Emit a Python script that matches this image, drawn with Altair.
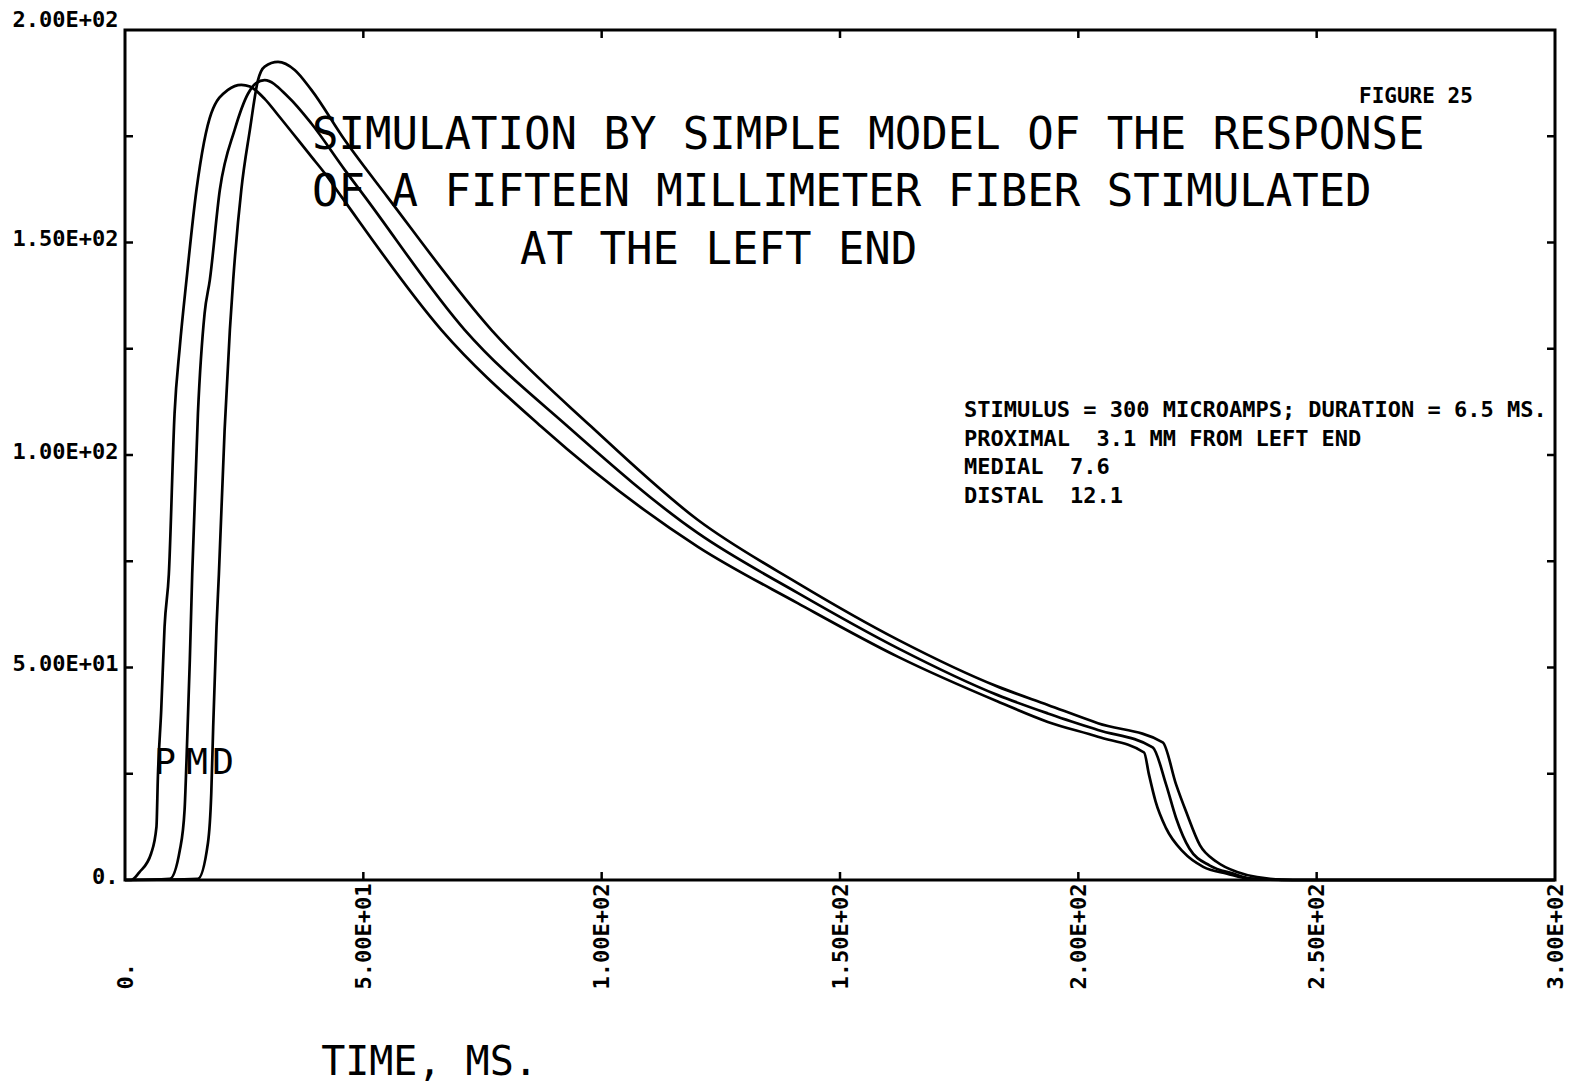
import altair as alt
import pandas as pd

# ---- data (time in ms, response) ----
x_prox = [0, 1.3, 3.0, 5.5, 6.6, 6.9, 7.6, 8.3, 9.2, 10.4, 11.5, 12.9, 15.0, 18.1, 21.6, 24.4, 26.2,
          29.3, 32.1, 39.1, 41.9, 45.4, 66.4, 87.3, 120.2, 141.2, 162.2, 183.1, 193.6, 204.1,
          213.8, 214.8, 216.2, 218.4, 222.0, 226.2, 231.2, 236.0, 245.0, 300.0]
y_prox = [0, 0, 1.8, 6.3, 12.5, 24.3, 40.0, 59.6, 72.0, 109.8, 125.5, 141.2, 162.4, 180.4, 185.9, 187.1, 186.7,
          183.8, 180.0, 170.2, 166.3, 160.8, 129.4, 106.7, 78.4, 65.1, 52.5, 42.0, 37.2, 33.7,
          30.0, 24.9, 18.5, 12.2, 6.6, 3.1, 1.5, 0.3, 0, 0]

x_med = [0, 9.4, 11.5, 12.5, 12.9, 13.6, 14.1, 15.3, 16.7, 17.8, 19.9, 23.0, 25.8, 27.5, 29.3, 34.2,
         39.1, 46.1, 50.3, 71.3, 92.9, 120.2, 141.2, 162.2, 183.1, 193.6, 204.1, 215.6, 218.4, 220.5,
         223.3, 227.6, 232.5, 236.0, 245.0, 300.0]
y_med = [0, 0.3, 7.0, 16.5, 28.0, 51.8, 72.0, 109.8, 133.3, 141.2, 162.4, 176.5, 185.0, 187.5, 188.2, 184.3,
         178.0, 167.1, 160.8, 129.4, 106.7, 81.6, 67.5, 54.5, 43.5, 39.2, 35.3, 31.2, 22.5, 14.6,
         7.4, 3.4, 1.5, 0.4, 0, 0]

x_dist = [0, 15.3, 17.4, 18.1, 18.5, 19.2, 19.7, 20.9, 22.0, 22.7, 24.4, 26.2, 27.9, 29.3, 32.1, 35.6,
          39.1, 46.1, 55.0, 76.9, 97.8, 120.2, 141.2, 162.2, 183.1, 193.6, 204.1, 217.7, 220.5, 222.6,
          225.5, 229.0, 233.3, 237.5, 245.0, 300.0]
y_dist = [0, 0.3, 8.7, 20.4, 36.0, 59.6, 72.0, 105.9, 129.4, 141.2, 162.4, 176.5, 188.2, 191.4, 192.5, 190.6,
          185.9, 174.1, 160.8, 129.4, 106.7, 84.7, 69.8, 56.5, 45.5, 41.2, 36.9, 32.4, 22.5, 16.1,
          8.2, 4.3, 1.9, 0.7, 0, 0]

series_names = ["PROXIMAL", "MEDIAL", "DISTAL"]

x_tick_values = [0, 50, 100, 150, 200, 250, 300]
x_tick_labels = ["0.", "5.00E+01", "1.00E+02", "1.50E+02", "2.00E+02", "2.50E+02", "3.00E+02"]
y_tick_values = [0, 50, 100, 150, 200]
y_tick_labels = ["0.", "5.00E+01", "1.00E+02", "1.50E+02", "2.00E+02"]
x_minor_ticks = [50, 100, 150, 200, 250]
y_minor_ticks = [25, 50, 75, 100, 125, 150, 175]

NB = "\u00a0"
title_lines = ["SIMULATION BY SIMPLE MODEL OF THE RESPONSE",
               "OF A FIFTEEN MILLIMETER FIBER STIMULATED",
               "AT THE LEFT END"]
note_lines = ["STIMULUS = 300 MICROAMPS; DURATION = 6.5 MS.",
              "PROXIMAL" + NB + NB + "3.1 MM FROM LEFT END",
              "MEDIAL" + NB + NB + "7.6",
              "DISTAL" + NB + NB + "12.1"]
figure_label = "FIGURE 25"
curve_letters = ["P", "M", "D"]
x_title = "TIME, MS."

# ---- build tables ----
rows = []
for name, xs, ys in zip(series_names, [x_prox, x_med, x_dist], [y_prox, y_med, y_dist]):
    for i, (a, b) in enumerate(zip(xs, ys)):
        rows.append({"series": name, "t": a, "v": b, "i": i})
df = pd.DataFrame(rows)

def label_expr(values, labels):
    expr = "''"
    for v, l in zip(values, labels):
        expr = f"datum.value == {v} ? '{l}' : ({expr})"
    return expr

W, H = 1430, 850
MONO = "DejaVu Sans Mono"

xscale = alt.Scale(domain=[0, 300], nice=False, zero=False)
yscale = alt.Scale(domain=[0, 200], nice=False, zero=False)

x_axis = alt.Axis(values=x_tick_values, labelExpr=label_expr(x_tick_values, x_tick_labels),
                  labelAngle=270, labelAlign="left", labelBaseline="middle", labelPadding=109,
                  labelFont=MONO, labelFontWeight="bold", labelFontSize=22, labelColor="black",
                  labelFlush=False, labelOverlap=False, ticks=False, tickSize=0, domain=False, grid=False,
                  title=x_title, titleFont=MONO, titleFontWeight="normal", titleFontSize=40,
                  titleColor="black", titleX=304, titleY=182, titleAlign="center",
                  titleBaseline="middle", titleAngle=0)
y_axis = alt.Axis(values=y_tick_values, labelExpr=label_expr(y_tick_values, y_tick_labels),
                  labelAlign="right",
                  labelBaseline={"condition": {"test": f"datum.value == {max(y_tick_values)}",
                                               "value": "alphabetic"}, "value": "middle"},
                  labelOffset=-4, labelPadding=7,
                  labelFont=MONO, labelFontWeight="bold", labelFontSize=22, labelColor="black",
                  labelFlush=False, labelOverlap=False, ticks=False, tickSize=0, domain=False, grid=False,
                  title=None)

lines = alt.Chart(df).mark_line(color="black", strokeWidth=2.7, interpolate="monotone").encode(
    x=alt.X("t:Q", scale=xscale, axis=x_axis),
    y=alt.Y("v:Q", scale=yscale, axis=y_axis),
    detail="series:N",
    order="i:Q",
)

xt = pd.DataFrame({"t": x_minor_ticks})
yt = pd.DataFrame({"v": y_minor_ticks})
tick_bottom = alt.Chart(xt).mark_rule(color="black", strokeWidth=2.5).encode(
    x=alt.X("t:Q", scale=xscale), y=alt.value(H), y2=alt.value(H - 8))
tick_top = alt.Chart(xt).mark_rule(color="black", strokeWidth=2.5).encode(
    x=alt.X("t:Q", scale=xscale), y=alt.value(0), y2=alt.value(8))
tick_left = alt.Chart(yt).mark_rule(color="black", strokeWidth=2.5).encode(
    y=alt.Y("v:Q", scale=yscale), x=alt.value(0), x2=alt.value(8))
tick_right = alt.Chart(yt).mark_rule(color="black", strokeWidth=2.5).encode(
    y=alt.Y("v:Q", scale=yscale), x=alt.value(W), x2=alt.value(W - 8))

layers = [lines, tick_bottom, tick_top, tick_left, tick_right]

title_pos = [(187, 106), (187, 163), (395, 221)]
for txt, (px, py) in zip(title_lines, title_pos):
    layers.append(alt.Chart(pd.DataFrame({"a": [0]})).mark_text(
        text=txt, font=MONO, fontSize=44, fontWeight="normal", color="black",
        align="left", baseline="middle").encode(x=alt.value(px), y=alt.value(py)))

note_y = [380, 409, 437, 466]
for txt, py in zip(note_lines, note_y):
    layers.append(alt.Chart(pd.DataFrame({"a": [0]})).mark_text(
        text=txt, font=MONO, fontSize=22, fontWeight="bold", color="black",
        align="left", baseline="middle").encode(x=alt.value(839), y=alt.value(py)))

layers.append(alt.Chart(pd.DataFrame({"a": [0]})).mark_text(
    text=figure_label, font=MONO, fontSize=21, fontWeight="bold", color="black",
    align="left", baseline="middle").encode(x=alt.value(1234), y=alt.value(67)))

for txt, px in zip(curve_letters, [40, 72, 98]):
    layers.append(alt.Chart(pd.DataFrame({"a": [0]})).mark_text(
        text=txt, font=MONO, fontSize=36, fontWeight="normal", color="black",
        align="center", baseline="middle").encode(x=alt.value(px), y=alt.value(733)))

chart = alt.layer(*layers).properties(
    width=W, height=H,
    autosize=alt.AutoSizeParams(type="none"),
    padding={"left": 125, "top": 30, "right": 24, "bottom": 207},
    background="white",
).configure_view(stroke="black", strokeWidth=3)

chart.save("out.html", embed_options={"renderer": "svg", "actions": False})
